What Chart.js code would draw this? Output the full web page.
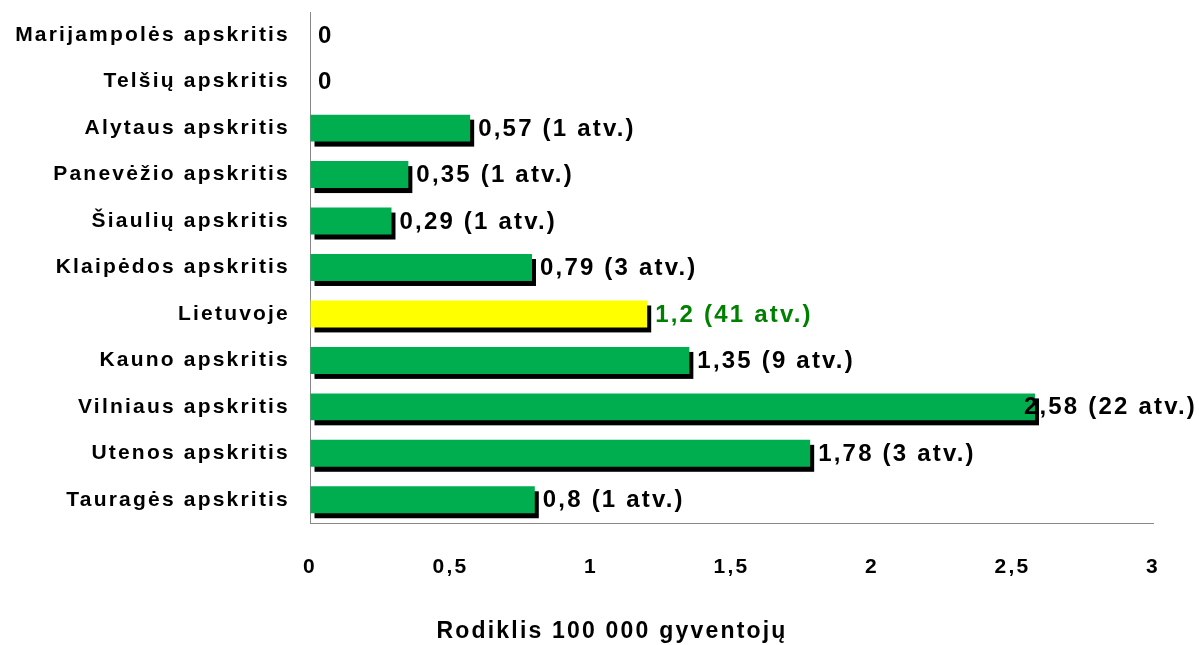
<!DOCTYPE html>
<html>
<head>
<meta charset="utf-8">
<script src="https://cdn.jsdelivr.net/npm/chart.js@4.4.0/dist/chart.umd.min.js"></script>
<style>
  html, body { margin: 0; padding: 0; background: #fff; }
  #wrap { width: 1199px; height: 645px; }
</style>
</head>
<body>
<div id="wrap"><canvas id="myBarChart" width="1199" height="645"></canvas></div>
<script>
var regions = ['Marijampolės apskritis', 'Telšių apskritis', 'Alytaus apskritis', 'Panevėžio apskritis',
    'Šiaulių apskritis', 'Klaipėdos apskritis', 'Lietuvoje', 'Kauno apskritis',
    'Vilniaus apskritis', 'Utenos apskritis', 'Tauragės apskritis'];
var rates = [0, 0, 0.57, 0.35, 0.29, 0.79, 1.2, 1.35, 2.58, 1.78, 0.8];
var cases = [null, null, 1, 1, 1, 3, 41, 9, 22, 3, 1];
var xTicks = [0, 0.5, 1, 1.5, 2, 2.5, 3];
var xTitle = 'Rodiklis 100 000 gyventojų';

var FONT = "'Liberation Sans', Arial, sans-serif";
var SPACING = '2.2px';

function comma(v){
    return v.toString().replace('.', ',');
}

var barColors = regions.map(function(r){ return r == 'Lietuvoje' ? '#FFFF00' : '#00AD4F'; });

// letter spacing has to be set again after the canvas is resized
var spacingPlugin = {
    id: 'spacing',
    beforeUpdate: function(chart){ chart.ctx.letterSpacing = SPACING; },
    beforeDraw: function(chart){ chart.ctx.letterSpacing = SPACING; },
    afterDraw: function(chart){
        // axis title sits centred on the whole picture, not on the plot
        var ctx = chart.ctx;
        ctx.save();
        ctx.letterSpacing = SPACING;
        ctx.font = 'bold 23px ' + FONT;
        ctx.fillStyle = '#000';
        ctx.textAlign = 'center';
        ctx.textBaseline = 'middle';
        ctx.fillText(xTitle, 612, 632);
        ctx.restore();
    }
};

// black drop shadow under every bar + value labels
var shadowPlugin = {
    id: 'shadow',
    beforeDatasetsDraw: function(chart){
        var ctx = chart.ctx;
        var meta = chart.getDatasetMeta(0);
        ctx.save();
        ctx.fillStyle = '#000';
        meta.data.forEach(function(bar, i){
            if (!rates[i]) return;
            var p = bar.getProps(['x', 'y', 'base', 'height'], true);
            ctx.fillRect(p.base + 4, p.y - p.height / 2 + 5, p.x - p.base, p.height);
        });
        ctx.restore();
    },
    afterDatasetsDraw: function(chart){
        var ctx = chart.ctx;
        var meta = chart.getDatasetMeta(0);
        ctx.save();
        ctx.letterSpacing = SPACING;
        ctx.font = 'bold 24px ' + FONT;
        ctx.textBaseline = 'middle';
        ctx.textAlign = 'left';
        meta.data.forEach(function(bar, i){
            var p = bar.getProps(['x', 'y'], true);
            var txt = comma(rates[i]);
            if (cases[i] != null) txt += ' (' + cases[i] + ' atv.)';
            var w = ctx.measureText(txt).width;
            var x = Math.min(p.x + 8, chart.width - 2 - w);
            ctx.fillStyle = regions[i] == 'Lietuvoje' ? '#008000' : '#000';
            ctx.fillText(txt, x, p.y + 1);
        });
        ctx.restore();
    }
};

var ctx = document.getElementById('myBarChart');
var barGraph = new Chart(ctx, {
    type: 'bar',
    data: {
        labels: regions,
        datasets: [{
            label: 'Rodiklis',
            data: rates,
            backgroundColor: barColors,
            borderWidth: 0,
            barPercentage: 0.58,
            categoryPercentage: 1
        }]
    },
    options: {
        indexAxis: 'y',
        responsive: false,
        animation: false,
        layout: { padding: { top: 12, right: 46, bottom: 0, left: 0 } },
        plugins: {
            legend: { display: false },
            tooltip: { enabled: false }
        },
        scales: {
            x: {
                min: 0,
                max: 3,
                afterBuildTicks: function(s){
                    s.ticks = xTicks.map(function(v){ return { value: v }; });
                },
                afterFit: function(s){
                    s.height = 122;
                    s.paddingLeft = 0;
                    s.paddingRight = 0;
                },
                grid: { color: 'transparent', drawTicks: false },
                border: { display: true, color: '#888', width: 1 },
                ticks: {
                    padding: 32,
                    color: '#000',
                    maxRotation: 0,
                    font: { family: FONT, size: 21, weight: 'bold' },
                    callback: function(v){ return comma(v); }
                },
                title: { display: false }
            },
            y: {
                afterFit: function(s){
                    s.width = 310;
                    s.paddingTop = 0;
                    s.paddingBottom = 0;
                },
                grid: { color: 'transparent', drawTicks: false },
                border: { display: true, color: '#888', width: 1 },
                ticks: {
                    padding: 20,
                    color: '#000',
                    font: { family: FONT, size: 21, weight: 'bold' }
                }
            }
        }
    },
    plugins: [spacingPlugin, shadowPlugin]
});
</script>
</body>
</html>
